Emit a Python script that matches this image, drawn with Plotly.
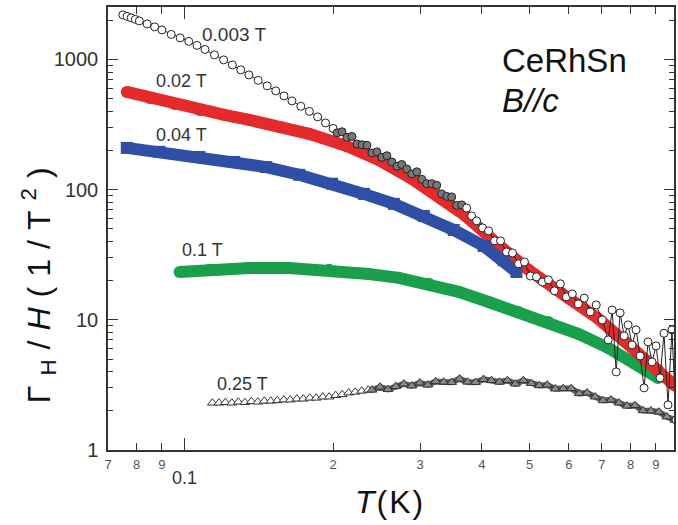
import math
import plotly.graph_objects as go

# ---- data: T (K) and Gamma_H / H (1/T^2) for CeRhSn, B // c ----
# 0.003 T (open circles, noisy above ~0.4 K)
T_0003 = [0.075, 0.0765, 0.078, 0.0795, 0.081, 0.084, 0.087, 0.090, 0.094, 0.098,
          0.102, 0.106, 0.110, 0.115, 0.120, 0.125, 0.130, 0.135, 0.141, 0.147,
          0.153, 0.159, 0.165, 0.172, 0.179, 0.186, 0.193, 0.200,
          0.2036, 0.2084, 0.2133, 0.2183, 0.2235, 0.2287, 0.2341, 0.2396, 0.2452, 0.2510,
          0.2569, 0.2630, 0.2692, 0.2754, 0.2819, 0.2886, 0.2953, 0.3023, 0.3094, 0.3167,
          0.3241, 0.3317, 0.3396, 0.3475, 0.3557, 0.3641, 0.3726, 0.3814,
          0.3903, 0.4013, 0.4127, 0.4244, 0.4364, 0.4487, 0.4614, 0.4745, 0.4879, 0.5017,
          0.5159, 0.5305, 0.5455, 0.5609, 0.5768, 0.5931, 0.6099, 0.6271, 0.6448, 0.6631,
          0.6818, 0.7011, 0.7209, 0.7344, 0.7482, 0.7622, 0.7765, 0.7911, 0.8059, 0.8210,
          0.8364, 0.8521, 0.8681, 0.8844, 0.9010, 0.9179, 0.9351, 0.9527, 0.9705, 0.9887]
G_0003 = [2197, 2140, 2083, 2029, 1975, 1874, 1777, 1685, 1556, 1463,
          1375, 1281, 1193, 1083, 991, 907, 831, 760, 690, 626,
          573, 524, 480, 436, 399, 362, 325, 295,
          273, 278, 252, 256, 224, 221, 219, 191, 195, 177,
          182, 163, 151, 156, 144, 132, 137, 120, 111, 111,
          108, 92.7, 88.7, 87.9, 75.6, 76.3, 72.3, 62.8,
          57.5, 50.8, 48.2, 40.4, 40.4, 33.2, 32.6, 26.9, 27.8, 21.7,
          21.4, 19.5, 20.3, 16.7, 18.9, 15.0, 15.8, 13.25, 14.7, 11.5,
          13.0, 9.98, 7.01, 11.9, 3.98, 11.3, 7.52, 9.14, 6.42, 8.37,
          5.28, 3.00, 6.77, 4.75, 6.30, 3.58, 7.88, 2.22, 8.37, 1.70]

# 0.02 T (red)
T_002 = [0.0764, 0.0850, 0.0955, 0.1072, 0.1204, 0.1353, 0.1555, 0.1788, 0.2123, 0.2475,
         0.2886, 0.3380, 0.3710, 0.4324, 0.4972, 0.5985, 0.6880, 0.7802, 0.9095, 0.9843]
G_002 = [563, 506, 455, 409, 375, 343, 303, 268, 217, 169,
         121, 81.9, 62.8, 37.6, 24.2, 14.7, 10.2, 6.77, 4.12, 3.11]

# 0.04 T (blue)
T_004 = [0.0764, 0.0890, 0.1072, 0.1261, 0.1464, 0.1707, 0.1990, 0.2308, 0.2654, 0.3051,
         0.3508, 0.4034, 0.4426, 0.4700]
G_004 = [209, 195, 178, 163, 149, 130, 111, 92.7, 77.7, 62.8,
         49.0, 36.9, 28.8, 23.3]

# 0.1 T (green)
T_01 = [0.0977, 0.1123, 0.1353, 0.1629, 0.1962, 0.2362, 0.2716, 0.3123, 0.3591, 0.4128,
        0.4747, 0.5456, 0.6271, 0.7210, 0.8288, 0.9095]
G_01 = [23.3, 24.2, 25.0, 25.0, 24.2, 22.5, 21.0, 18.9, 16.4, 13.7,
        11.5, 9.63, 7.79, 6.08, 4.50, 3.58]

# 0.25 T (open triangles)
T_025 = [0.1139, 0.1174, 0.1210, 0.1247, 0.1285, 0.1325, 0.1365, 0.1407, 0.1451, 0.1495,
         0.1541, 0.1589, 0.1637, 0.1688, 0.1740, 0.1793, 0.1848, 0.1905, 0.1963, 0.2023,
         0.2086, 0.2150, 0.2216, 0.2284, 0.2354,
         0.2396, 0.2487, 0.2581, 0.2678, 0.2780, 0.2885, 0.2994, 0.3108, 0.3225, 0.3347,
         0.3474, 0.3606, 0.3742, 0.3884, 0.4031, 0.4184, 0.4342, 0.4507, 0.4677, 0.4854,
         0.5038, 0.5229, 0.5427, 0.5632, 0.5846, 0.6067, 0.6297, 0.6535, 0.6783, 0.7040,
         0.7306, 0.7583, 0.7870, 0.8168, 0.8477, 0.8798, 0.9131, 0.9477, 0.9836]
G_025 = [2.30, 2.30, 2.32, 2.30, 2.34, 2.32, 2.36, 2.34, 2.38, 2.38,
         2.40, 2.43, 2.43, 2.47, 2.47, 2.51, 2.51, 2.56, 2.56, 2.63,
         2.67, 2.75, 2.79, 2.84, 2.89,
         2.89, 3.05, 2.92, 3.08, 3.22, 3.11, 3.28, 3.16, 3.36, 3.33,
         3.31, 3.52, 3.33, 3.31, 3.49, 3.42, 3.33, 3.42, 3.22, 3.42,
         3.25, 3.13, 3.16, 2.95, 2.97, 2.97, 2.72, 2.75, 2.56, 2.40,
         2.43, 2.30, 2.18, 2.20, 2.01, 2.00, 1.96, 1.80, 1.70]

# axis ticks
X_TICKS = [0.07, 0.08, 0.09, 0.2, 0.3, 0.4, 0.5, 0.6, 0.7, 0.8, 0.9]
X_TICKTEXT = ["7", "8", "9", "2", "3", "4", "5", "6", "7", "8", "9"]
Y_TICKS = [1, 10, 100, 1000]
Y_TICKTEXT = ["1", "10", "100", "1000"]
Y_MINOR = [m * d for d in (1, 10, 100, 1000) for m in range(2, 10)]

RED = "#e42a2a"
BLUE = "#2f4fa6"
GREEN = "#1a9f4c"
INK = "#333333"
FONT = "Liberation Sans, Arial, sans-serif"

# plot-area geometry in pixels (678 x 525 canvas)
W, H = 678, 525
L, R, TOP, BOT = 108, 676, 7, 450


def xp(px):
    return (px - L) / (R - L)


def yp(py):
    return (BOT - py) / (BOT - TOP)


fig = go.Figure()

# 0.1 T
fig.add_trace(go.Scatter(x=T_01, y=G_01, mode="lines+markers",
                         line=dict(color=GREEN, width=12),
                         marker=dict(symbol="circle", size=12, color=GREEN)))
# 0.02 T
fig.add_trace(go.Scatter(x=T_002, y=G_002, mode="lines+markers",
                         line=dict(color=RED, width=12),
                         marker=dict(symbol="circle", size=12, color=RED)))
# 0.04 T
fig.add_trace(go.Scatter(x=T_004, y=G_004, mode="lines+markers",
                         line=dict(color=BLUE, width=12),
                         marker=dict(symbol="square", size=12, color=BLUE)))

# 0.25 T: densely measured part drawn as a darker band under the symbols
dense_T = [t for t in T_025 if t >= 0.239]
dense_G = [g for t, g in zip(T_025, G_025) if t >= 0.239]
fig.add_trace(go.Scatter(x=dense_T, y=dense_G, mode="lines",
                         line=dict(color="#5c5c5c", width=6)))
fig.add_trace(go.Scatter(x=T_025, y=G_025, mode="lines+markers",
                         line=dict(color=INK, width=1),
                         marker=dict(symbol="triangle-up", size=8.5,
                                     color=["#8a8a8a" if t >= 0.239 else "white" for t in T_025],
                                     line=dict(color=INK, width=1))))

# 0.003 T
fig.add_trace(go.Scatter(x=T_0003, y=G_0003, mode="lines+markers",
                         line=dict(color="#222222", width=1),
                         marker=dict(symbol="circle", size=8,
                                     color=["#777777" if 0.2 < t < 0.37 else "white" for t in T_0003],
                                     line=dict(color="#222222", width=1))))

axis_common = dict(showline=True, linecolor=INK, linewidth=1.5, mirror="ticks",
                   ticks="inside", tickcolor=INK, tickwidth=1.2, showgrid=False,
                   zeroline=False)

fig.update_xaxes(type="log",
                 range=[math.log10(0.07), math.log10(0.9797)],
                 tickvals=X_TICKS, ticktext=X_TICKTEXT, ticklen=7,
                 tickfont=dict(family=FONT, size=13, color="#555555"),
                 ticklabelstandoff=2,
                 minor=dict(tickvals=[0.1], ticks="inside", ticklen=12,
                            tickcolor=INK, tickwidth=1.2, showgrid=False),
                 **axis_common)
fig.update_yaxes(type="log",
                 range=[0, 3.4025],
                 tickvals=Y_TICKS, ticktext=Y_TICKTEXT, ticklen=10,
                 tickfont=dict(family=FONT, size=20, color=INK),
                 ticklabelstandoff=4,
                 minor=dict(tickvals=Y_MINOR, ticks="inside", ticklen=5,
                            tickcolor=INK, tickwidth=1, showgrid=False),
                 **axis_common)

annotations = [
    dict(text="0.003 T", x=xp(200), y=yp(35), xanchor="left", size=19),
    dict(text="0.02 T", x=xp(154), y=yp(81), xanchor="left", size=18),
    dict(text="0.04 T", x=xp(154), y=yp(135), xanchor="left", size=18),
    dict(text="0.1 T", x=xp(180), y=yp(250), xanchor="left", size=18),
    dict(text="0.25 T", x=xp(215), y=yp(384), xanchor="left", size=18),
    dict(text="CeRhSn", x=xp(501), y=yp(60), xanchor="left", size=33, color="#111111"),
    dict(text="<i>B//c</i>", x=xp(501), y=yp(101), xanchor="left", size=33, color="#111111"),
    dict(text="0.1", x=xp(185), y=yp(478), xanchor="center", size=18),
    dict(text='<span style="letter-spacing:2px"><i>T</i>(K)</span>', x=xp(391), y=yp(502),
         xanchor="center", size=32, color="#111111"),
]
ann = []
for a in annotations:
    ann.append(dict(text=a["text"], x=a["x"], y=a["y"], xref="paper", yref="paper",
                    xanchor=a["xanchor"], yanchor="middle", showarrow=False,
                    font=dict(family=FONT, size=a["size"], color=a.get("color", INK))))

# rotated y-axis title
ann.append(dict(text='<span style="letter-spacing:10px">Γ<sub>H</sub>/<i>H</i>(1/T<sup>2</sup>)</span>',
                x=xp(38), y=yp(280), xref="paper", yref="paper", textangle=-90,
                xanchor="center", yanchor="middle", showarrow=False,
                font=dict(family=FONT, size=32, color="#111111")))

fig.update_layout(width=W, height=H,
                  margin=dict(l=L, r=W - R, t=TOP, b=H - BOT, pad=0),
                  paper_bgcolor="white", plot_bgcolor="white",
                  showlegend=False, annotations=ann)

fig.write_html("out.html")
